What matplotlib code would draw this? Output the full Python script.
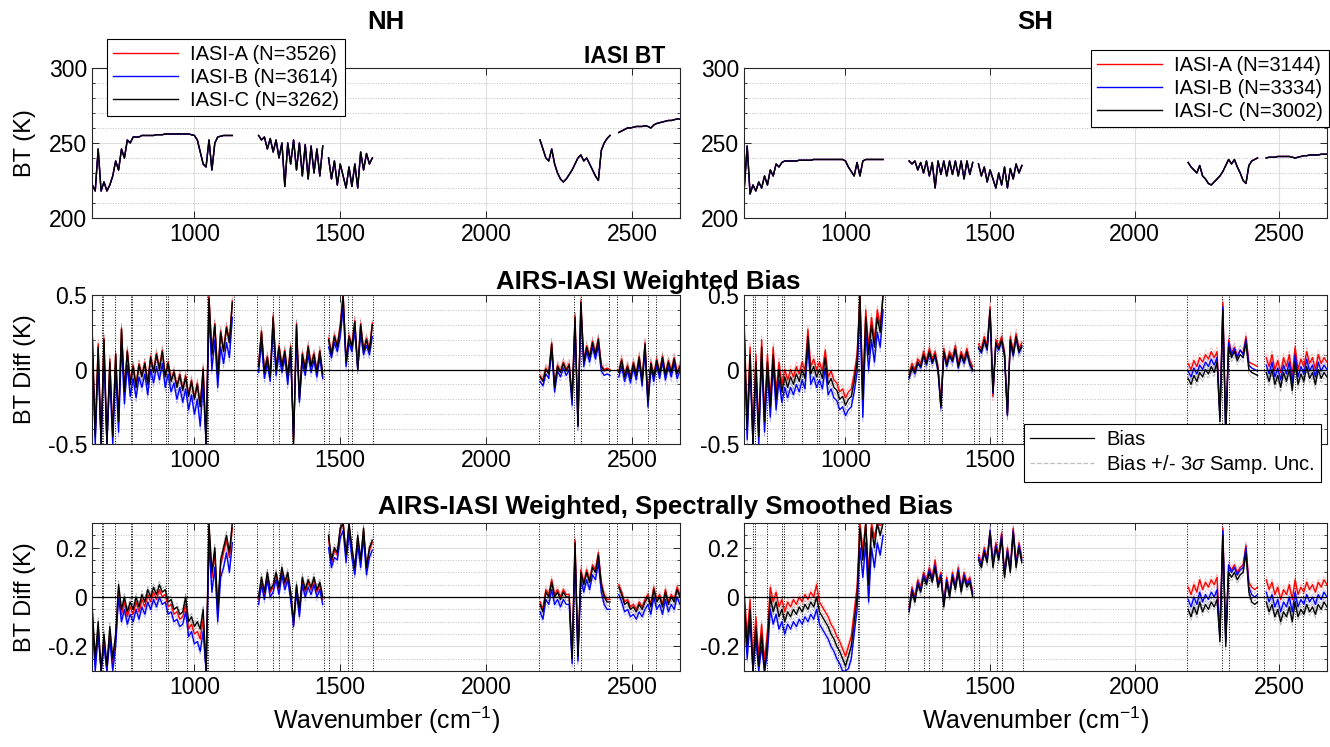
import numpy as np
import matplotlib
matplotlib.use("Agg")
import matplotlib.pyplot as plt
from matplotlib.ticker import MultipleLocator
from matplotlib.lines import Line2D

plt.rcParams['font.family'] = ['Liberation Sans', 'DejaVu Sans']
plt.rcParams['mathtext.fontset'] = 'custom'
plt.rcParams['mathtext.rm'] = 'Liberation Sans'
plt.rcParams['mathtext.it'] = 'Liberation Sans:italic'

nan = np.nan

# wavenumber grid: three AIRS bands, one NaN point between bands to break the line
wn = np.concatenate([np.arange(650, 1131, 10), [1175],
                     np.arange(1220, 1611, 10), [1900],
                     np.arange(2185, 2666, 10)])

# ---- IASI BT (K) ----
bt_nh = [222, 218, 246, 218, 224, 218, 222, 228, 238, 232,
         246, 240, 252, 250, 254, 254, 254, 255, 255, 255,
         255, 255, 255.5, 255.5, 255.5, 256, 256, 256, 256, 256,
         256, 256, 256, 256, 255.5, 255, 252, 244, 236, 234,
         252, 232, 250, 254, 254.5, 255, 255, 255, 255,
         nan,
         255, 252, 254, 246, 253, 244, 252, 240, 250, 221,
         250, 236, 252, 232, 250, 228, 249, 226, 248, 230,
         246, 228, 248, nan, 240, 226, 238, 222, 236, 228,
         220, 234, 221, 236, 220, 244, 232, 243, 236, 240,
         nan,
         252, 246, 240, 238, 246, 236, 230, 226, 224, 226,
         229, 232, 236, 240, 242, 238, 240, 236, 232, 228,
         225, 245, 250, 253, 255, nan, nan, 257, 258, 259,
         260, 260, 260.5, 261, 261, 261, 261.5, 261, 260, 262,
         263, 263.5, 264, 264.5, 265, 265, 265.5, 266, 266]

bt_sh = [220, 248, 216, 222, 218, 224, 220, 228, 222, 232,
         228, 236, 234, 237, 238, 238, 238, 238, 238, 238.5,
         238.5, 238.5, 238.5, 238.5, 239, 239, 239, 239, 239, 239,
         239, 239, 239, 239, 239, 238, 234, 231, 228, 237,
         228, 238, 239, 239, 239, 239, 239, 239, 239,
         nan,
         238, 236, 238, 232, 237, 230, 238, 228, 237, 220,
         238, 229, 238, 228, 238, 229, 238, 228, 238, 226,
         238, 229, 237, nan, 236, 228, 234, 224, 232, 226,
         220, 230, 222, 234, 220, 233, 226, 236, 230, 235,
         nan,
         237, 234, 232, 230, 235, 228, 226, 223, 222, 224,
         226, 228, 231, 235, 239, 236, 239, 234, 230, 225,
         223, 235, 238, 239, 240, nan, nan, 240, 240.5, 240.5,
         240.5, 241, 241, 241, 241, 241, 240.5, 240, 240.5, 241,
         241.5, 241.5, 242, 242, 242, 242, 242.5, 242.5, 242.5]

# ---- AIRS-IASI weighted bias (K), NH ----
bias_nh_c = [0.22, -0.45, 0.15, -0.5, 0.2, -0.5, 0.05, -0.45, 0.1, -0.35,
             0.27, -0.15, 0.12, -0.1, 0.02, -0.12, 0.03, -0.05, 0.04, -0.1,
             0.08, -0.02, 0.1, 0.0, 0.12, -0.05, 0.04, -0.08, -0.02, -0.12,
             -0.04, -0.14, -0.05, -0.18, -0.08, -0.2, -0.1, -0.25, 0.0, -0.5,
             0.48, 0.1, 0.3, -0.05, 0.25, 0.12, 0.28, 0.18, 0.45,
             nan,
             0.02, 0.25, -0.02, 0.08, -0.05, 0.35, 0.0, 0.15, 0.02, 0.12,
             -0.05, 0.15, -0.5, 0.3, -0.2, 0.1, 0.0, 0.15, 0.02, 0.1,
             -0.02, 0.12, -0.03, nan, 0.2, 0.1, 0.22, 0.15, 0.28, 0.5,
             0.05, 0.22, 0.15, 0.32, 0.0, 0.3, 0.12, 0.2, 0.12, 0.3,
             nan,
             -0.05, -0.08, 0.0, -0.03, 0.17, -0.12, 0.02, -0.02, 0.04, -0.01,
             0.03, -0.2, 0.35, -0.38, 0.45, 0.05, 0.15, 0.08, 0.18, 0.1,
             0.2, 0.02, -0.01, 0.0, -0.01, nan, nan, -0.02, 0.06, -0.05,
             0.02, -0.06, 0.04, -0.04, 0.08, -0.08, 0.17, -0.22, 0.04, -0.05,
             0.06, -0.03, 0.08, -0.04, 0.05, -0.02, 0.07, -0.03, 0.02]
bias_nh_a = [0.24, -0.43, 0.17, -0.48, 0.21, -0.49, 0.07, -0.43, 0.11, -0.33,
             0.28, -0.13, 0.13, -0.08, 0.03, -0.1, 0.04, -0.04, 0.05, -0.08,
             0.09, -0.01, 0.11, 0.01, 0.13, -0.04, 0.05, -0.07, -0.01, -0.11,
             -0.03, -0.13, -0.04, -0.17, -0.07, -0.19, -0.09, -0.24, 0.01, -0.48,
             0.49, 0.11, 0.31, -0.04, 0.26, 0.13, 0.29, 0.19, 0.46,
             nan,
             0.03, 0.26, -0.01, 0.09, -0.04, 0.36, 0.01, 0.16, 0.03, 0.13,
             -0.04, 0.16, -0.48, 0.31, -0.19, 0.11, 0.01, 0.16, 0.03, 0.11,
             -0.01, 0.13, -0.05, nan, 0.21, 0.11, 0.23, 0.16, 0.3, 0.5,
             0.06, 0.23, 0.16, 0.33, 0.01, 0.31, 0.13, 0.21, 0.13, 0.31,
             nan,
             -0.04, -0.07, 0.01, -0.02, 0.18, -0.11, 0.03, -0.01, 0.05, 0.0,
             0.04, -0.19, 0.36, -0.37, 0.46, 0.06, 0.16, 0.09, 0.19, 0.11,
             0.21, 0.03, 0.0, 0.01, 0.0, nan, nan, -0.01, 0.07, -0.04,
             0.03, -0.05, 0.05, -0.03, 0.09, -0.07, 0.18, -0.21, 0.05, -0.04,
             0.07, -0.02, 0.09, -0.03, 0.06, -0.01, 0.08, -0.02, 0.03]
bias_nh_b = [0.14, -0.5, 0.06, -0.5, 0.1, -0.5, -0.04, -0.5, 0.0, -0.42,
             0.17, -0.23, 0.03, -0.18, -0.06, -0.19, -0.05, -0.12, -0.03, -0.17,
             0.0, -0.09, 0.02, -0.07, 0.04, -0.12, -0.03, -0.15, -0.09, -0.2,
             -0.12, -0.22, -0.13, -0.27, -0.17, -0.3, -0.2, -0.38, -0.1, -0.5,
             0.38, 0.0, 0.2, -0.12, 0.15, 0.04, 0.18, 0.08, 0.35,
             nan,
             -0.02, 0.18, -0.06, 0.04, -0.08, 0.28, -0.04, 0.1, -0.02, 0.08,
             -0.1, 0.1, -0.45, 0.22, -0.22, 0.05, -0.04, 0.1, -0.02, 0.06,
             -0.05, 0.08, -0.06, nan, 0.15, 0.08, 0.18, 0.12, 0.22, 0.42,
             0.02, 0.18, 0.12, 0.26, 0.0, 0.24, 0.1, 0.16, 0.1, 0.22,
             nan,
             -0.08, -0.11, -0.03, -0.06, 0.13, -0.15, -0.01, -0.05, 0.01, -0.04,
             0.0, -0.24, 0.3, -0.38, 0.4, 0.02, 0.12, 0.05, 0.15, 0.07,
             0.16, -0.01, -0.04, -0.03, -0.04, nan, nan, -0.05, 0.02, -0.08,
             -0.01, -0.09, 0.01, -0.07, 0.05, -0.11, 0.13, -0.25, 0.01, -0.08,
             0.03, -0.06, 0.05, -0.07, 0.02, -0.05, 0.04, -0.06, -0.01]

# ---- AIRS-IASI weighted bias (K), SH ----
bias_sh_c = [0.25, -0.4, 0.1, -0.5, 0.05, -0.45, 0.15, -0.35, 0.05, -0.25,
             0.1, -0.2, 0.0, -0.15, -0.05, -0.12, -0.05, -0.1, -0.03, -0.08,
             0.0, -0.06, 0.22, -0.03, 0.02, -0.05, 0.0, -0.06, 0.08, -0.1,
             -0.06, -0.12, -0.14, -0.2, -0.18, -0.24, -0.2, -0.18, -0.08, 0.05,
             0.5, -0.2, 0.35, 0.1, 0.3, 0.15, 0.35, 0.25, 0.5,
             nan,
             -0.05, 0.02, -0.02, 0.05, 0.02, 0.1, 0.04, 0.12, 0.05, 0.1,
             0.0, -0.25, 0.12, 0.03, 0.1, 0.06, 0.14, 0.02, 0.1, 0.05,
             0.12, 0.04, 0.0, nan, 0.15, 0.12, 0.2, 0.14, 0.4, -0.15,
             0.18, 0.14, 0.2, 0.1, -0.3, 0.2, 0.1, 0.22, 0.12, 0.16,
             nan,
             -0.06, -0.1, -0.04, -0.08, -0.02, -0.05, 0.0, -0.03, 0.02, -0.02,
             0.05, -0.35, 0.4, -0.45, 0.15, 0.08, 0.12, 0.06, 0.1, 0.08,
             0.18, 0.0, -0.02, -0.03, -0.04, nan, nan, -0.02, -0.08, 0.0,
             -0.1, -0.04, -0.12, -0.02, -0.08, 0.0, -0.14, 0.05, -0.1, -0.03,
             -0.08, 0.02, -0.06, -0.02, -0.1, 0.0, -0.06, -0.02, -0.05]
bias_sh_a = [0.3, -0.35, 0.15, -0.45, 0.1, -0.4, 0.2, -0.3, 0.1, -0.2,
             0.15, -0.15, 0.05, -0.1, 0.0, -0.07, 0.0, -0.05, 0.02, -0.03,
             0.05, -0.01, 0.27, 0.02, 0.07, 0.0, 0.05, -0.01, 0.13, -0.05,
             -0.01, -0.07, -0.09, -0.15, -0.13, -0.19, -0.15, -0.13, -0.03, 0.1,
             0.5, -0.15, 0.4, 0.15, 0.35, 0.2, 0.4, 0.3, 0.5,
             nan,
             -0.03, 0.04, 0.0, 0.07, 0.04, 0.12, 0.06, 0.14, 0.07, 0.12,
             0.02, -0.22, 0.14, 0.05, 0.12, 0.08, 0.16, 0.04, 0.12, 0.07,
             0.14, 0.06, 0.02, nan, 0.17, 0.14, 0.22, 0.16, 0.42, -0.18,
             0.2, 0.16, 0.22, 0.12, -0.3, 0.22, 0.12, 0.24, 0.14, 0.18,
             nan,
             0.04, 0.0, 0.06, 0.02, 0.08, 0.05, 0.1, 0.07, 0.12, 0.08,
             0.12, -0.3, 0.45, -0.4, 0.2, 0.11, 0.15, 0.09, 0.13, 0.11,
             0.22, 0.05, 0.04, 0.03, 0.02, nan, nan, 0.08, 0.02, 0.1,
             0.0, 0.06, -0.02, 0.08, 0.02, 0.1, -0.04, 0.15, 0.0, 0.07,
             0.02, 0.12, 0.04, 0.08, 0.0, 0.1, 0.04, 0.08, 0.05]
bias_sh_b = [0.18, -0.47, 0.03, -0.5, -0.02, -0.5, 0.08, -0.42, -0.02, -0.32,
             0.03, -0.27, -0.07, -0.22, -0.12, -0.19, -0.12, -0.17, -0.1, -0.15,
             -0.07, -0.13, 0.15, -0.1, -0.05, -0.12, -0.07, -0.13, 0.01, -0.17,
             -0.13, -0.19, -0.21, -0.27, -0.25, -0.31, -0.27, -0.25, -0.15, -0.02,
             0.4, -0.32, 0.25, 0.0, 0.2, 0.05, 0.25, 0.15, 0.4,
             nan,
             -0.06, 0.01, -0.03, 0.04, 0.01, 0.09, 0.03, 0.11, 0.04, 0.09,
             -0.01, -0.26, 0.11, 0.02, 0.09, 0.05, 0.13, 0.01, 0.09, 0.04,
             0.11, 0.03, -0.01, nan, 0.14, 0.11, 0.19, 0.13, 0.39, -0.16,
             0.17, 0.13, 0.19, 0.09, -0.31, 0.19, 0.09, 0.21, 0.11, 0.15,
             nan,
             -0.01, -0.05, 0.01, -0.03, 0.03, 0.0, 0.05, 0.02, 0.07, 0.03,
             0.08, -0.32, 0.42, -0.42, 0.18, 0.1, 0.14, 0.08, 0.13, 0.1,
             0.2, 0.03, 0.01, 0.0, -0.01, nan, nan, 0.03, -0.03, 0.05,
             -0.05, 0.01, -0.07, 0.03, -0.03, 0.05, -0.09, 0.1, -0.05, 0.02,
             -0.03, 0.07, -0.01, 0.03, -0.05, 0.05, -0.01, 0.03, 0.0]

# ---- spectrally smoothed bias (K), NH ----
smooth_nh_c = [-0.05, -0.25, -0.1, -0.3, -0.15, -0.28, -0.12, -0.25, -0.15, 0.05,
               -0.05, 0.0, -0.06, -0.02, -0.05, 0.0, -0.04, 0.01, -0.02, 0.03,
               0.0, 0.04, 0.01, 0.05, 0.02, 0.03, -0.02, -0.01, -0.05, -0.04,
               -0.07, -0.06, 0.0, -0.1, -0.08, -0.12, -0.1, -0.13, -0.05, -0.3,
               0.3, 0.1, 0.2, -0.05, 0.15, 0.2, 0.25, 0.18, 0.3,
               nan,
               0.0, 0.08, 0.02, 0.1, 0.03, 0.05, 0.1, 0.04, 0.12, 0.06,
               0.1, 0.02, -0.1, 0.05, -0.05, 0.08, 0.03, 0.07, 0.04, 0.08,
               0.03, 0.06, 0.0, nan, 0.25, 0.15, 0.2, 0.18, 0.28, 0.3,
               0.17, 0.3, 0.2, 0.12, 0.25, 0.15, 0.28, 0.12, 0.2, 0.23,
               nan,
               -0.03, -0.06, 0.02, 0.0, 0.06, 0.0, 0.02, -0.01, 0.02, 0.0,
               0.0, -0.25, 0.22, -0.24, 0.1, 0.05, 0.1, 0.06, 0.12, 0.1,
               0.17, 0.05, 0.0, -0.02, -0.02, nan, nan, 0.04, 0.01, -0.03,
               -0.02, -0.05, -0.04, -0.06, -0.03, -0.05, -0.02, 0.0, -0.04, 0.03,
               -0.02, 0.0, -0.04, 0.02, -0.03, 0.0, -0.02, 0.03, 0.0]
smooth_nh_a = [-0.07, -0.27, -0.12, -0.3, -0.17, -0.3, -0.14, -0.27, -0.17, 0.03,
               -0.07, -0.02, -0.08, -0.04, -0.07, -0.02, -0.06, -0.01, -0.04, 0.01,
               -0.02, 0.02, -0.01, 0.03, 0.0, 0.01, -0.04, -0.03, -0.07, -0.06,
               -0.09, -0.08, -0.03, -0.13, -0.11, -0.15, -0.14, -0.17, -0.09, -0.3,
               0.28, 0.08, 0.18, -0.07, 0.13, 0.18, 0.23, 0.16, 0.28,
               nan,
               -0.01, 0.07, 0.01, 0.09, 0.02, 0.04, 0.09, 0.03, 0.11, 0.05,
               0.09, 0.01, -0.11, 0.04, -0.06, 0.07, 0.02, 0.06, 0.03, 0.07,
               0.02, 0.05, -0.01, nan, 0.24, 0.14, 0.19, 0.17, 0.27, 0.3,
               0.16, 0.29, 0.19, 0.11, 0.24, 0.14, 0.27, 0.11, 0.19, 0.22,
               nan,
               -0.02, -0.05, 0.03, 0.01, 0.07, 0.01, 0.03, 0.0, 0.03, 0.01,
               0.01, -0.24, 0.23, -0.23, 0.11, 0.06, 0.11, 0.07, 0.13, 0.11,
               0.18, 0.06, 0.01, -0.01, -0.01, nan, nan, 0.05, 0.02, -0.02,
               -0.01, -0.04, -0.03, -0.05, -0.02, -0.04, -0.01, 0.01, -0.03, 0.04,
               -0.01, 0.01, -0.03, 0.03, -0.02, 0.01, -0.01, 0.04, 0.01]
smooth_nh_b = [-0.1, -0.3, -0.15, -0.3, -0.2, -0.3, -0.17, -0.3, -0.2, 0.0,
               -0.1, -0.05, -0.11, -0.07, -0.1, -0.05, -0.09, -0.04, -0.07, -0.02,
               -0.05, -0.01, -0.04, 0.0, -0.03, -0.02, -0.07, -0.06, -0.1, -0.09,
               -0.12, -0.11, -0.06, -0.16, -0.14, -0.19, -0.18, -0.22, -0.14, -0.3,
               0.22, 0.02, 0.12, -0.1, 0.08, 0.12, 0.18, 0.1, 0.22,
               nan,
               -0.03, 0.05, -0.01, 0.07, 0.0, 0.02, 0.07, 0.01, 0.09, 0.03,
               0.07, -0.01, -0.12, 0.02, -0.08, 0.05, 0.0, 0.04, 0.01, 0.05,
               0.0, 0.03, -0.03, nan, 0.2, 0.12, 0.16, 0.15, 0.24, 0.27,
               0.14, 0.26, 0.16, 0.09, 0.21, 0.12, 0.24, 0.09, 0.16, 0.19,
               nan,
               -0.06, -0.09, -0.01, -0.03, 0.03, -0.03, -0.01, -0.04, -0.01, -0.03,
               -0.03, -0.27, 0.19, -0.26, 0.07, 0.02, 0.07, 0.03, 0.09, 0.07,
               0.14, 0.02, -0.03, -0.05, -0.05, nan, nan, 0.01, -0.02, -0.06,
               -0.05, -0.08, -0.07, -0.09, -0.06, -0.08, -0.05, -0.03, -0.07, 0.0,
               -0.05, -0.03, -0.07, -0.01, -0.06, -0.03, -0.05, 0.0, -0.03]

# ---- spectrally smoothed bias (K), SH ----
smooth_sh_c = [-0.02, -0.2, -0.05, -0.3, -0.12, -0.28, -0.15, -0.3, -0.18, 0.0,
               -0.06, -0.02, -0.08, -0.05, -0.1, -0.06, -0.08, -0.05, -0.07, -0.04,
               -0.06, -0.03, -0.05, -0.02, -0.04, 0.0, -0.06, -0.08, -0.1, -0.12,
               -0.15, -0.17, -0.2, -0.22, -0.25, -0.28, -0.24, -0.2, -0.1, 0.0,
               0.28, 0.15, 0.3, 0.05, 0.28, 0.2, 0.3, 0.25, 0.3,
               nan,
               -0.06, 0.02, -0.02, 0.05, 0.02, 0.08, 0.05, 0.1, 0.06, 0.12,
               0.04, 0.08, -0.04, 0.06, 0.0, 0.08, 0.03, 0.1, 0.02, 0.08,
               0.04, 0.06, 0.0, nan, 0.15, 0.12, 0.18, 0.14, 0.26, 0.12,
               0.2, 0.15, 0.24, 0.08, 0.18, 0.1, 0.26, 0.12, 0.2, 0.14,
               nan,
               -0.05, -0.08, -0.04, -0.07, -0.02, -0.06, -0.03, -0.05, -0.02, -0.04,
               -0.01, -0.18, 0.25, -0.2, 0.1, 0.08, 0.1, 0.07, 0.09, 0.1,
               0.18, 0.02, -0.02, -0.03, -0.02, nan, nan, -0.02, -0.06, -0.03,
               -0.08, -0.05, -0.1, -0.06, -0.08, -0.04, -0.1, -0.02, -0.08, -0.05,
               -0.07, -0.03, -0.06, -0.04, -0.07, -0.03, -0.05, -0.02, -0.04]
smooth_sh_a = [0.02, -0.16, -0.01, -0.26, -0.08, -0.24, -0.11, -0.26, -0.14, 0.04,
               -0.02, 0.02, -0.04, -0.01, -0.06, -0.02, -0.04, -0.01, -0.03, 0.0,
               -0.02, 0.01, -0.01, 0.02, 0.0, 0.05, -0.02, -0.04, -0.06, -0.08,
               -0.11, -0.13, -0.16, -0.18, -0.21, -0.24, -0.2, -0.16, -0.06, 0.04,
               0.3, 0.19, 0.3, 0.09, 0.3, 0.24, 0.3, 0.29, 0.3,
               nan,
               -0.04, 0.04, 0.0, 0.07, 0.04, 0.1, 0.07, 0.12, 0.08, 0.15,
               0.06, 0.1, -0.02, 0.08, 0.02, 0.1, 0.05, 0.12, 0.04, 0.1,
               0.06, 0.08, 0.02, nan, 0.17, 0.14, 0.2, 0.16, 0.27, 0.14,
               0.22, 0.17, 0.26, 0.1, 0.2, 0.12, 0.28, 0.14, 0.22, 0.16,
               nan,
               0.04, 0.01, 0.05, 0.02, 0.07, 0.03, 0.06, 0.04, 0.07, 0.05,
               0.08, -0.15, 0.28, -0.17, 0.13, 0.11, 0.13, 0.1, 0.12, 0.13,
               0.21, 0.06, 0.04, 0.03, 0.04, nan, nan, 0.07, 0.03, 0.06,
               0.01, 0.04, -0.01, 0.03, 0.01, 0.05, -0.01, 0.07, 0.01, 0.04,
               0.02, 0.06, 0.03, 0.05, 0.02, 0.06, 0.04, 0.07, 0.05]
smooth_sh_b = [-0.07, -0.25, -0.1, -0.3, -0.17, -0.3, -0.2, -0.3, -0.23, -0.05,
               -0.11, -0.07, -0.13, -0.1, -0.15, -0.11, -0.13, -0.1, -0.12, -0.09,
               -0.11, -0.08, -0.1, -0.07, -0.09, -0.05, -0.11, -0.13, -0.15, -0.17,
               -0.2, -0.22, -0.25, -0.27, -0.3, -0.3, -0.29, -0.25, -0.15, -0.05,
               0.2, 0.08, 0.22, -0.02, 0.2, 0.12, 0.22, 0.17, 0.25,
               nan,
               -0.05, 0.03, -0.01, 0.06, 0.03, 0.09, 0.06, 0.11, 0.07, 0.13,
               0.05, 0.09, -0.03, 0.07, 0.01, 0.09, 0.04, 0.11, 0.03, 0.09,
               0.05, 0.07, 0.01, nan, 0.16, 0.13, 0.19, 0.15, 0.27, 0.13,
               0.21, 0.16, 0.25, 0.09, 0.19, 0.11, 0.27, 0.13, 0.21, 0.15,
               nan,
               -0.01, -0.04, 0.0, -0.03, 0.02, -0.02, 0.01, -0.01, 0.02, 0.0,
               0.03, -0.16, 0.27, -0.18, 0.13, 0.1, 0.12, 0.09, 0.11, 0.12,
               0.2, 0.04, 0.01, 0.0, 0.01, nan, nan, 0.02, -0.02, 0.01,
               -0.04, -0.01, -0.06, -0.02, -0.04, 0.0, -0.06, 0.02, -0.04, -0.01,
               -0.03, 0.01, -0.02, 0.0, -0.03, 0.01, -0.01, 0.02, 0.0]

# 3-sigma sampling uncertainty (K)
unc3_bias = 0.03
unc3_smooth = 0.015

# AIRS module boundaries (cm-1)
module_edges = [681.5, 687.6, 728.4, 781, 786, 851, 903, 909, 973, 1042, 1047,
                1136, 1216, 1270, 1290, 1335, 1443, 1460, 1525, 1540, 1614,
                2181, 2302, 2325, 2422, 2449, 2555, 2581]

n_nh = [3526, 3614, 3262]
n_sh = [3144, 3334, 3002]
sat_names = ['IASI-A', 'IASI-B', 'IASI-C']
sat_colors = ['red', 'blue', 'black']
unc_colors = [(1, 0.65, 0.65), (0.65, 0.65, 1), (0.6, 0.6, 0.6)]

xticks = [1000, 1500, 2000, 2500]
xlim = (649, 2665)

fig = plt.figure(figsize=(13.3, 7.47), dpi=100)

cols = [(0.0692, 0.4421), (0.5594, 0.4383)]
rows = [(0.7082, 0.2008), (0.4056, 0.1995), (0.1017, 0.1981)]

frame_col = (0.15, 0.15, 0.15)


def style_axes(ax, yticks, ylabels, ylim, yminor):
    ax.set_xlim(*xlim)
    ax.set_ylim(*ylim)
    ax.set_xticks(xticks)
    ax.set_xticklabels([str(t) for t in xticks])
    ax.set_yticks(yticks)
    ax.set_yticklabels(ylabels)
    ax.yaxis.set_minor_locator(MultipleLocator(yminor))
    ax.tick_params(which='both', direction='in', top=True, right=True,
                   color=frame_col, labelsize=16.5)
    ax.tick_params(which='major', length=5, width=0.7)
    ax.tick_params(which='minor', length=2.5, width=0.6)
    ax.grid(True, which='major', color=(0.87, 0.87, 0.87), lw=0.8, zorder=0)
    ax.grid(True, which='minor', axis='y', color=(0.75, 0.75, 0.75),
            ls=':', lw=0.7, zorder=0)
    ax.set_axisbelow(True)
    for s in ax.spines.values():
        s.set_color(frame_col)
        s.set_linewidth(0.8)


axes = [[fig.add_axes([c[0], r[0], c[1], r[1]]) for c in cols] for r in rows]

# --- row 1: IASI BT ---
for j, (bt, ns) in enumerate([(bt_nh, n_nh), (bt_sh, n_sh)]):
    ax = axes[0][j]
    handles = []
    for name, col, n in zip(sat_names, sat_colors, ns):
        h, = ax.plot(wn, bt, color=col, lw=1.0, label=f'{name} (N={n})')
        handles.append(h)
    style_axes(ax, [200, 250, 300], ['200', '250', '300'], (200, 300), 10)
    leg = ax.legend(handles=handles, fontsize=14.5,
                    loc='upper left' if j == 0 else 'upper right',
                    bbox_to_anchor=(0.0805, 0.948) if j == 0 else (0.999, 0.933),
                    bbox_transform=fig.transFigure, borderaxespad=0,
                    frameon=True, fancybox=False, edgecolor='black',
                    framealpha=1, handlelength=3.2, labelspacing=0.2,
                    borderpad=0.3, handletextpad=0.6)
    leg.get_frame().set_linewidth(0.8)
    leg.set_zorder(10)
axes[0][0].set_ylabel('BT (K)', fontsize=17)

# --- rows 2 and 3: biases ---
panel_data = [
    [(bias_nh_a, bias_nh_b, bias_nh_c), (bias_sh_a, bias_sh_b, bias_sh_c)],
    [(smooth_nh_a, smooth_nh_b, smooth_nh_c), (smooth_sh_a, smooth_sh_b, smooth_sh_c)],
]
row_specs = [
    ([-0.5, 0, 0.5], ['-0.5', '0', '0.5'], (-0.5, 0.5), 0.1, unc3_bias),
    ([-0.2, 0, 0.2], ['-0.2', '0', '0.2'], (-0.3, 0.3), 0.05, unc3_smooth),
]
for i in range(2):
    yt, yl, ylim, ymin, unc = row_specs[i]
    for j in range(2):
        ax = axes[i + 1][j]
        series = [np.array(s, dtype=float) for s in panel_data[i][j]]
        for s, uc in zip(series, unc_colors):
            ax.plot(wn, s + unc, color=uc, lw=0.5, ls='--', zorder=1)
            ax.plot(wn, s - unc, color=uc, lw=0.5, ls='--', zorder=1)
        for s, col in zip(series, sat_colors):
            ax.plot(wn, s, color=col, lw=1.0, zorder=2)
        for e in module_edges:
            ax.axvline(e, color='black', ls=':', lw=0.7, zorder=1.5)
        ax.axhline(0, color='black', lw=0.9, zorder=3)
        style_axes(ax, yt, yl, ylim, ymin)
    axes[i + 1][0].set_ylabel('BT Diff (K)', fontsize=17)

for ax in axes[2]:
    ax.set_xlabel('Wavenumber (cm$^{-1}$)', fontsize=18, labelpad=4)

leg_handles = [Line2D([], [], color='black', lw=0.9),
               Line2D([], [], color=(0.75, 0.75, 0.75), lw=0.9, ls='--')]
leg2 = axes[1][1].legend(leg_handles, ['Bias', 'Bias +/- 3$\\sigma$ Samp. Unc.'],
                         fontsize=14.5, loc='upper right',
                         bbox_to_anchor=(0.993, 0.4324),
                         bbox_transform=fig.transFigure, borderaxespad=0,
                         frameon=True, fancybox=False, edgecolor='black',
                         framealpha=1, handlelength=3.2, labelspacing=0.2,
                         borderpad=0.3, handletextpad=0.6)
leg2.get_frame().set_linewidth(0.8)
leg2.set_zorder(10)

for r in range(3):
    axes[r][0].yaxis.set_label_coords(-0.095, 0.5)

# titles
fig.text(0.290, 0.9705, 'NH', fontsize=18.5, fontweight='bold', ha='center', va='center')
fig.text(0.7786, 0.9705, 'SH', fontsize=18.5, fontweight='bold', ha='center', va='center')
fig.text(0.500, 0.9237, 'IASI BT', fontsize=16.5, fontweight='bold', ha='right', va='center')
fig.text(0.487, 0.6225, 'AIRS-IASI Weighted Bias', fontsize=18.5, fontweight='bold',
         ha='center', va='center')
fig.text(0.500, 0.321, 'AIRS-IASI Weighted, Spectrally Smoothed Bias', fontsize=18.5,
         fontweight='bold', ha='center', va='center')

fig.savefig('out.png', dpi=100)
